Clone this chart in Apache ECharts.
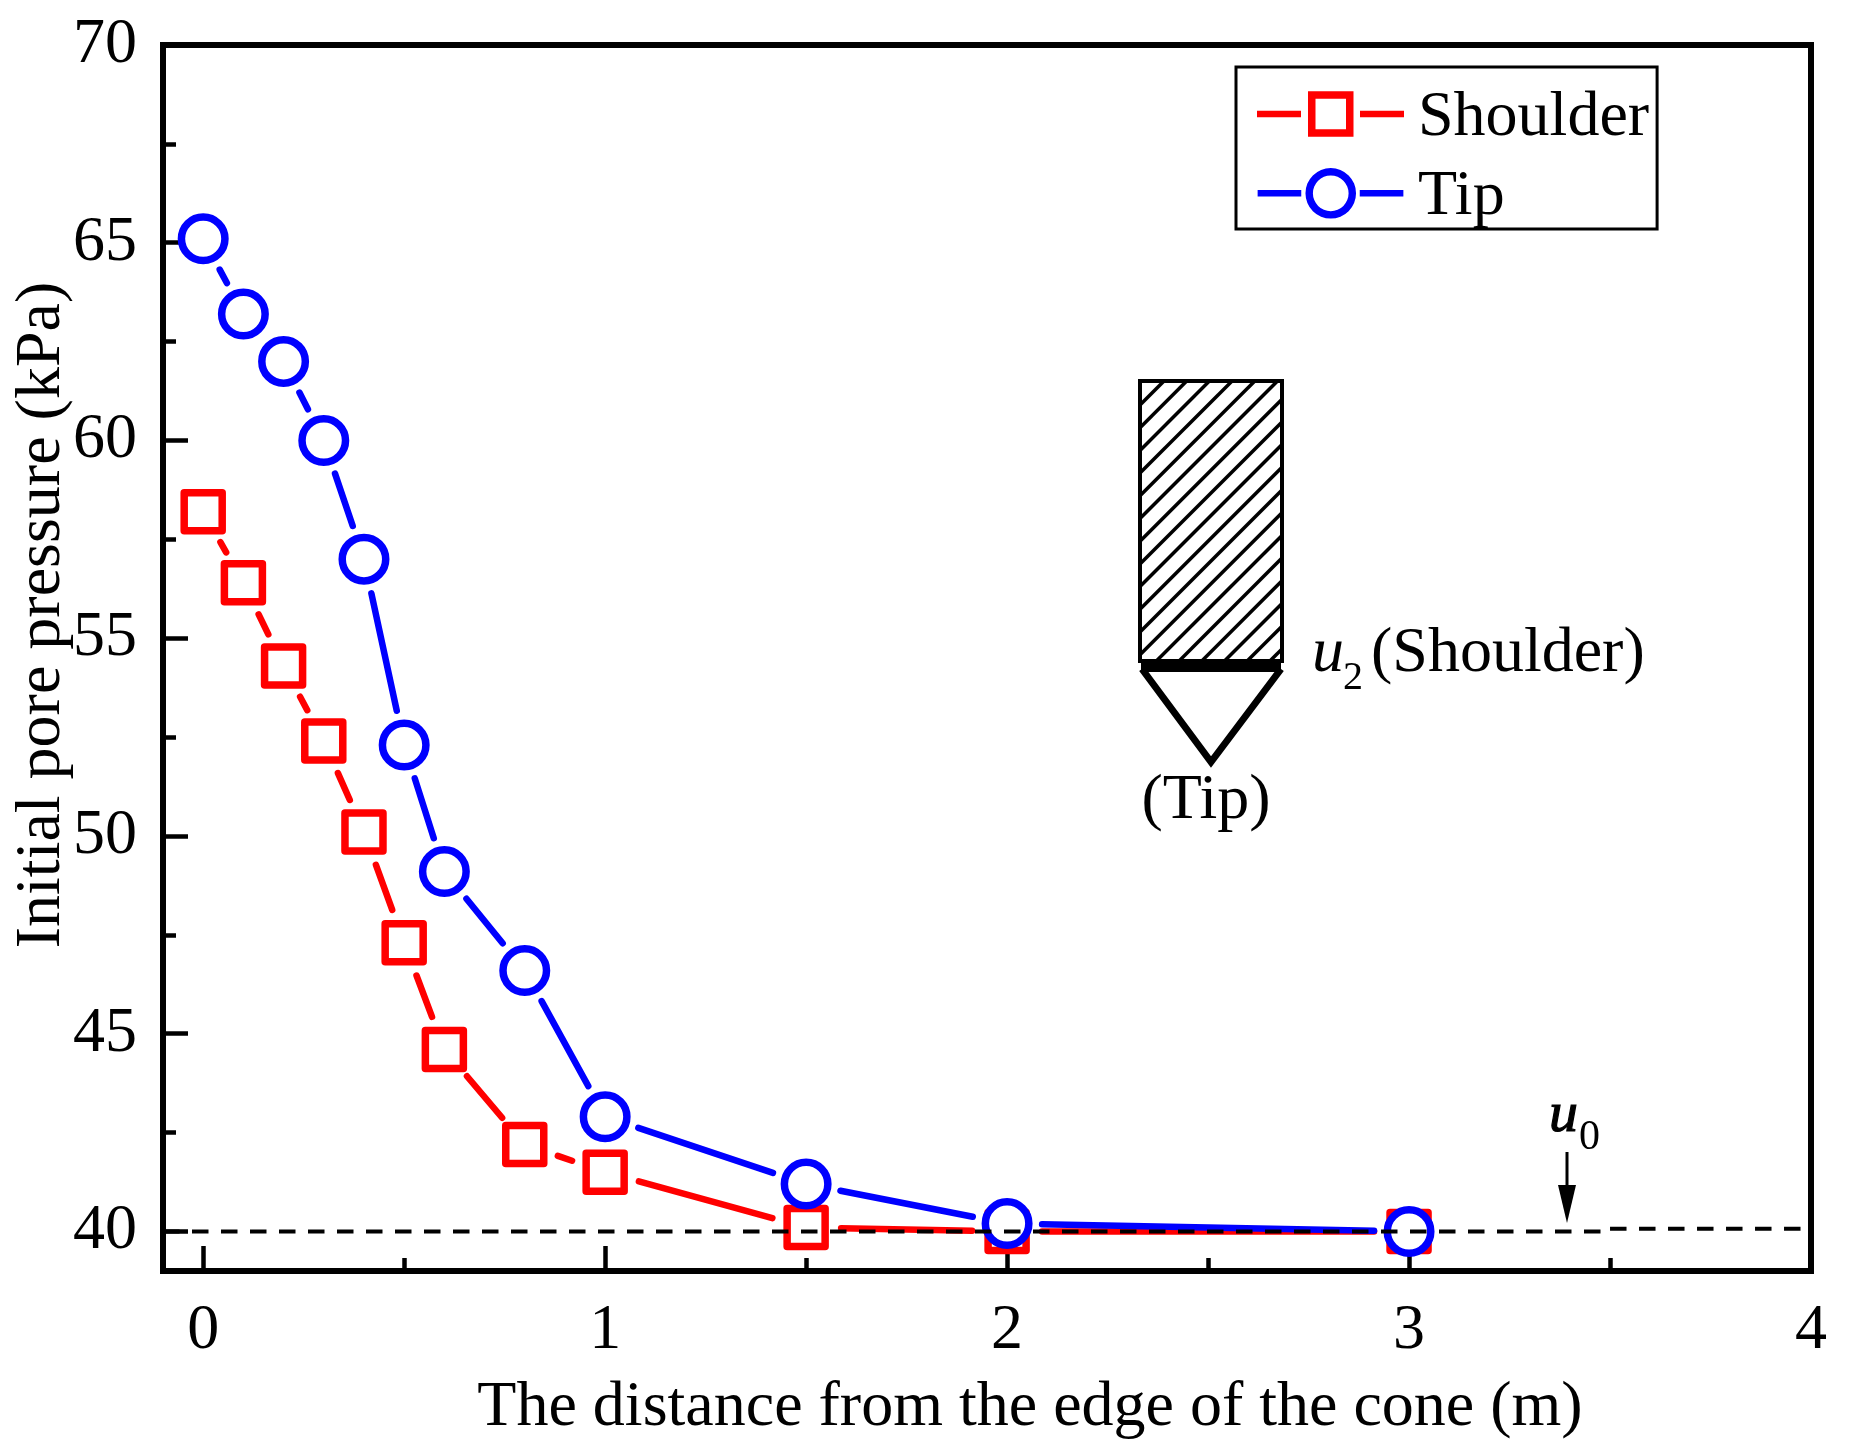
<!DOCTYPE html>
<html>
<head>
<meta charset="utf-8">
<style>html,body{margin:0;padding:0;background:#fff}#c{width:1850px;height:1455px}</style>
<script src="https://cdn.jsdelivr.net/npm/echarts@6/dist/echarts.min.js"></script>
</head>
<body>
<div id="c"></div>
<script>
const distance = [0, 0.1, 0.2, 0.3, 0.4, 0.5, 0.6, 0.8, 1, 1.5, 2, 3];
const shoulder = [58.2, 56.4, 54.3, 52.4, 50.1, 47.3, 44.6, 42.2, 41.5, 40.1, 40, 40];
const tip = [65.1, 63.2, 62, 60, 57, 52.3, 49.1, 46.6, 42.9, 41.2, 40.2, 40];
const u0Left = [[-0.1, 40], [3.5, 40]];
const u0Right = [[3.5, 40.07], [4.02, 40.07]];
const xTicks = [0, 1, 2, 3, 4];
const xMinor = [0.5, 1.5, 2.5, 3.5];
const yTicks = [40, 45, 50, 55, 60, 65, 70];
const yMinor = [42.5, 47.5, 52.5, 57.5, 62.5, 67.5];

const FONT = '"Liberation Serif","Times New Roman",serif';
const FS = 64, RED = '#ff0000', BLUE = '#0000ff', GAP = 35;

function markerSeries(name, values, color, kind) {
  return {
    name, type: 'custom', coordinateSystem: 'cartesian2d',
    clip: false, itemStyle: { color },
    encode: { x: 0, y: 1 },
    data: distance.map((d, i) => [d, values[i]]),
    renderItem(params, api) {
      const i = params.dataIndex;
      const p = api.coord([distance[i], values[i]]);
      const kids = [];
      if (i < distance.length - 1) {
        const q = api.coord([distance[i + 1], values[i + 1]]);
        const dx = q[0] - p[0], dy = q[1] - p[1], L = Math.hypot(dx, dy);
        if (L - 2 * GAP > 1) {
          const ux = dx / L, uy = dy / L;
          kids.push({ type: 'line', shape: { x1: p[0] + ux * GAP, y1: p[1] + uy * GAP, x2: q[0] - ux * GAP, y2: q[1] - uy * GAP },
            style: { stroke: color, lineWidth: 6.5, lineCap: 'round' } });
        }
      }
      kids.push(kind === 'square'
        ? { type: 'rect', shape: { x: p[0] - 19, y: p[1] - 19, width: 38, height: 38 }, style: { fill: '#fff', stroke: color, lineWidth: 7.5, lineJoin: 'round' } }
        : { type: 'circle', shape: { cx: p[0], cy: p[1], r: 21.75 }, style: { fill: '#fff', stroke: color, lineWidth: 7.5 } });
      return { type: 'group', children: kids };
    }
  };
}

/* the two tiny corners pin the icon box so the glyph sits slightly above the text centre */
const bars = 'M0 0H0.01V0.01ZM0 58H0.01V57.99ZM0 21.7H44V28.3H0ZM103 21.7H147V28.3H103Z';
const squareIcon = 'path://' + bars + 'M51 2.25H96.5V47.75H51ZM58.5 9.75V40.25H89V9.75Z';
const circleIcon = 'path://' + bars + 'M48.25 25A25.5 25.5 0 0 1 99.25 25A25.5 25.5 0 0 1 48.25 25ZM55.75 25A18 18 0 0 0 91.75 25A18 18 0 0 0 55.75 25Z';

function dash(data) {
  return { type: 'line', data, clip: false, symbol: 'none', silent: true, z: 10, legendHoverLink: false,
    lineStyle: { color: '#000', width: 4, type: [16.5, 12.5] } };
}

/* schematic of the cone */
const L = 1140, R = 1282, T = 381, B = 661;
const schematic = [];
const black = { stroke: '#000', fill: null };
for (let a = T + 24 - 22.7; a < B + (R - L); a += 22.7) {
  let x1 = L, y1 = a, x2 = R, y2 = a - (R - L);
  if (y1 > B) { x1 = L + (y1 - B); y1 = B; }
  if (y2 < T) { x2 = R - (T - y2); y2 = T; }
  if (x2 > x1) schematic.push({ type: 'line', shape: { x1, y1, x2, y2 }, style: { ...black, lineWidth: 3.5 } });
}
schematic.push({ type: 'rect', shape: { x: L, y: T, width: R - L, height: B - T }, style: { stroke: '#000', fill: null, lineWidth: 4 } });
schematic.push({ type: 'rect', shape: { x: L + 1, y: 661, width: R - L - 2, height: 11 }, style: { fill: '#000' } });
schematic.push({ type: 'polyline', shape: { points: [[L + 2, 669], [1211, 762], [R - 1, 669]] }, style: { ...black, lineWidth: 7, lineJoin: 'miter' } });

function label(text, x, y, size, style, align, strokeW) {
  const s = { text, font: (style ? style + ' ' : '') + size + 'px ' + FONT, fill: '#000', textAlign: align || 'left' };
  if (strokeW) { s.stroke = '#000'; s.lineWidth = strokeW; }
  return { type: 'text', x, y: y - 0.75 * size, style: s };
}
schematic.push(label('u', 1312, 670, FS, 'italic'));
schematic.push(label('2', 1343, 688, 40));
schematic.push(label('(Shoulder)', 1371, 670, FS));
schematic.push(label('(Tip)', 1206, 817, FS, '', 'center'));
schematic.push(label('u', 1549, 1130, 58, 'italic', 'left', 1.2));
schematic.push(label('0', 1579, 1148, 42));
schematic.push({ type: 'line', shape: { x1: 1567, y1: 1152, x2: 1567, y2: 1190 }, style: { ...black, lineWidth: 3 } });
schematic.push({ type: 'polygon', shape: { points: [[1558, 1185], [1576, 1185], [1567, 1223]] }, style: { fill: '#000' } });

const tickLabel = { fontFamily: FONT, fontSize: FS, color: '#000' };
const axisBase = {
  type: 'value', splitLine: { show: false }, minorTick: { show: false }
};
const option = {
  animation: false,
  backgroundColor: '#fff',
  grid: { left: 163, top: 45, width: 1648, height: 1226, show: true, borderColor: '#000', borderWidth: 6, backgroundColor: 'transparent', containLabel: false, outerBoundsMode: 'none' },
  xAxis: [
    { ...axisBase, min: -0.1, max: 4, name: 'The distance from the edge of the cone (m)', nameLocation: 'middle', nameGap: 105,
      nameTextStyle: { fontFamily: FONT, fontSize: FS, color: '#000', padding: [0, 0, 0, 86] },
      axisLine: { show: true, onZero: false, lineStyle: { color: '#000', width: 6 } },
      axisTick: { show: true, inside: true, length: 25, customValues: xTicks, lineStyle: { color: '#000', width: 4.5 } },
      axisLabel: { ...tickLabel, margin: 28, customValues: xTicks, showMinLabel: true, showMaxLabel: true, formatter: v => String(v) } },
    { ...axisBase, min: -0.1, max: 4, position: 'bottom', axisLine: { show: false, onZero: false },
      axisTick: { show: true, inside: true, length: 13, customValues: xMinor, lineStyle: { color: '#000', width: 4.5 } },
      axisLabel: { show: false } }
  ],
  yAxis: [
    { ...axisBase, min: 39, max: 70, name: 'Initial pore pressure (kPa)', nameLocation: 'middle', nameGap: 89, nameMoveOverlap: false,
      nameTextStyle: { fontFamily: FONT, fontSize: FS, color: '#000', padding: [0, 0, 0, 86] },
      axisLine: { show: true, onZero: false, lineStyle: { color: '#000', width: 6 } },
      axisTick: { show: true, inside: true, length: 25, customValues: yTicks, lineStyle: { color: '#000', width: 4.5 } },
      axisLabel: { ...tickLabel, margin: 26, customValues: yTicks, showMinLabel: true, showMaxLabel: true, formatter: v => String(v) } },
    { ...axisBase, min: 39, max: 70, position: 'left', axisLine: { show: false, onZero: false },
      axisTick: { show: true, inside: true, length: 13, customValues: yMinor, lineStyle: { color: '#000', width: 4.5 } },
      axisLabel: { show: false } }
  ],
  legend: {
    show: true, orient: 'vertical', left: 1236, top: 67, selectedMode: false,
    backgroundColor: '#fff', borderColor: '#000', borderWidth: 3,
    padding: [19, 8, 0, 21], itemWidth: 147, itemHeight: 58, itemGap: 15,
    symbolKeepAspect: true,
    itemStyle: { borderWidth: 0 },
    textStyle: { fontFamily: FONT, fontSize: 64, color: '#000', padding: [0, 0, 0, 9] },
    data: [{ name: 'Shoulder', icon: squareIcon }, { name: 'Tip', icon: circleIcon }]
  },
  series: [
    markerSeries('Shoulder', shoulder, RED, 'square'),
    markerSeries('Tip', tip, BLUE, 'circle'),
    dash(u0Left),
    dash(u0Right)
  ],
  graphic: { elements: schematic }
};
const chart = echarts.init(document.getElementById('c'), null, { renderer: 'canvas' });
chart.setOption(option);
</script>
</body>
</html>
